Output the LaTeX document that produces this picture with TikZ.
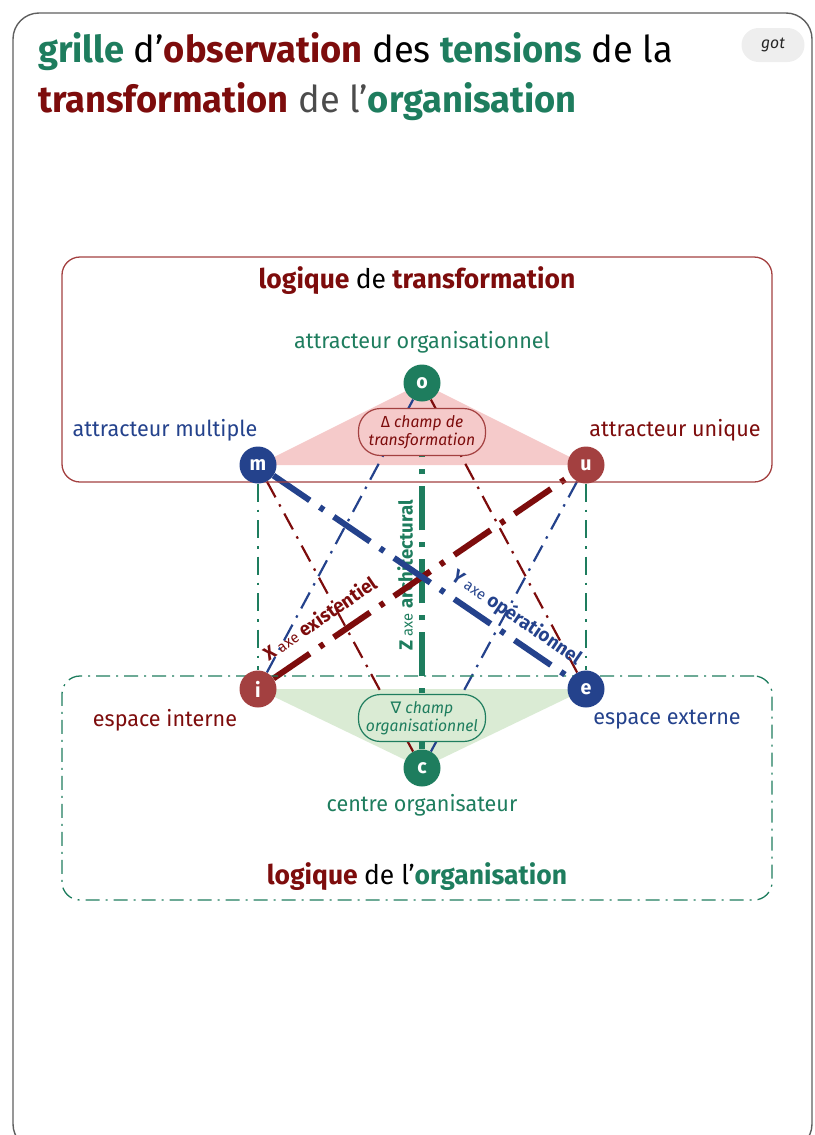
\documentclass[tikz,border=0pt]{standalone}
\usepackage{fontspec}
\setmainfont{Fira Sans}[FakeStretch=0.98]
\newfontfamily\symbfont{DejaVu Sans}
\usetikzlibrary{positioning}

\definecolor{tred}{RGB}{125,12,12}
\definecolor{nred}{RGB}{163,64,64}
\definecolor{tgreen}{RGB}{30,125,94}
\definecolor{tblue}{RGB}{36,66,140}
\definecolor{pinkfill}{RGB}{245,202,202}
\definecolor{greenfill}{RGB}{218,235,212}
\definecolor{cardline}{RGB}{95,95,95}
\definecolor{gotgray}{RGB}{238,238,238}

\pgfdeclarelayer{back}
\pgfdeclarelayer{mid}
\pgfsetlayers{back,mid,main}

\tikzstyle{pole} = [
    circle,
    minimum size=37pt,
    inner sep=0pt,
    text=white,
    font=\bfseries\fontsize{20}{20}\selectfont
]
\tikzstyle{champ} = [
    rectangle,
    rounded corners=22pt,
    minimum width=127pt,
    minimum height=47pt,
    inner sep=2pt,
    align=center,
    line width=1.2pt,
    font=\itshape\fontsize{16}{18.5}\selectfont
]
\tikzstyle{logicbox} = [
    rectangle,
    rounded corners=18pt,
    minimum width=710pt,
    minimum height=225pt,
    line width=1.3pt
]
\tikzstyle{caption} = [font=\fontsize{22}{26}\selectfont, inner sep=1pt]
\tikzstyle{axislabel} = [sloped, inner sep=1pt, font=\bfseries\fontsize{19}{19}\selectfont]
\tikzstyle{thinaxis} = [line width=2.2pt, dash pattern=on 18pt off 8pt on 2.5pt off 8pt]
\tikzstyle{thickaxis} = [line width=6pt, dash pattern=on 44pt off 12pt on 5pt off 12pt]

\newcommand{\axe}{{\mdseries\fontsize{15}{15}\selectfont axe}}

\begin{document}
\begin{tikzpicture}[x=1pt, y=-1pt]
\useasboundingbox (0,0) rectangle (814,1135);
\clip (0,0) rectangle (814,1135);

% card
\draw[cardline, line width=1.4pt, rounded corners=26pt] (13,13) rectangle (812,1150);

\node (got) [fill=gotgray, rounded corners=17pt, minimum width=63pt, minimum height=34pt,
    text=black!85, font=\itshape\fontsize{16}{16}\selectfont] at (773,45) {got};

\node (title1) [anchor=base west, inner sep=0pt, font=\fontsize{37}{37}\selectfont] at (38,62)
{\textcolor{tgreen}{\bfseries grille} d’\textcolor{tred}{\bfseries observation} des \textcolor{tgreen}{\bfseries tensions} de la};
\node (title2) [anchor=base west, inner sep=0pt, font=\fontsize{37}{37}\selectfont] at (38,112)
{\textcolor{tred}{\bfseries transformation} \textcolor{black!70}{de l’}\textcolor{tgreen}{\bfseries organisation}};

% the two logics
\node (trbox) [logicbox, draw=nred] at (417,369.5) {};
\node (orgbox) [logicbox, draw=tgreen, minimum height=224pt,
    dash pattern=on 14pt off 6pt on 2pt off 6pt] at (417,788) {};

\node (trtitle) [below=7pt of trbox.north, font=\bfseries\fontsize{27}{27}\selectfont]
{\textcolor{tred}{logique} {\mdseries de} \textcolor{tred}{transformation}};
\node (orgtitle) [above=7pt of orgbox.south, font=\bfseries\fontsize{27}{27}\selectfont]
{\textcolor{tred}{logique} {\mdseries de l’}\textcolor{tgreen}{organisation}};

% poles
\node (o) [pole, fill=tgreen] at (422,383) {o};
\node (m) [pole, fill=tblue] at (258,465) {m};
\node (u) [pole, fill=nred] at (586,465) {u};
\node (i) [pole, fill=nred] at (258,689) {i};
\node (e) [pole, fill=tblue] at (586,689) {e};
\node (c) [pole, fill=tgreen] at (422,768) {c};

\node (lo) [caption, text=tgreen, above=10pt of o] {attracteur organisationnel};
\node (lm) [caption, text=tblue] at (165,430) {attracteur multiple};
\node (lu) [caption, text=tred] at (675,430) {attracteur unique};
\node (li) [caption, text=tred] at (165,720) {espace interne};
\node (le) [caption, text=tblue] at (667,720) {espace externe};
\node (lc) [caption, text=tgreen, below=6pt of c] {centre organisateur};

% champs
\node (dtrans) [champ, draw=nred, fill=pinkfill, text=tred] at (422,432)
{{\upshape Δ} champ de\\transformation};
\node (dorg) [champ, draw=tgreen, fill=greenfill, text=tgreen] at (422,718)
{{\symbfont ∇} champ\\organisationnel};

\begin{pgfonlayer}{back}
\fill[pinkfill] (o.center) -- (m.center) -- (u.center) -- cycle;
\fill[greenfill] (i.center) -- (e.center) -- (c.center) -- cycle;
\end{pgfonlayer}

% axes
\begin{pgfonlayer}{mid}
\draw[thinaxis, tgreen] (m) -- (i);
\draw[thinaxis, tgreen] (u) -- (e);
\draw[thinaxis, tblue] (o) -- (i);
\draw[thinaxis, tred] (o) -- (e);
\draw[thinaxis, tred] (m) -- (c);
\draw[thinaxis, tblue] (u) -- (c);
\draw[thickaxis, tgreen] (c) -- (o)
    node[axislabel, text=tgreen, pos=0.5, above=5pt] {Z \axe\ architectural};
\draw[thickaxis, tred] (i) -- (u)
    node[axislabel, text=tred, pos=0.2, above=12pt] {X \axe\ existentiel};
\draw[thickaxis, tblue] (m) -- (e)
    node[axislabel, text=tblue, pos=0.78, above=6pt] {Y \axe\ opérationnel};
\end{pgfonlayer}

\end{tikzpicture}
\end{document}
